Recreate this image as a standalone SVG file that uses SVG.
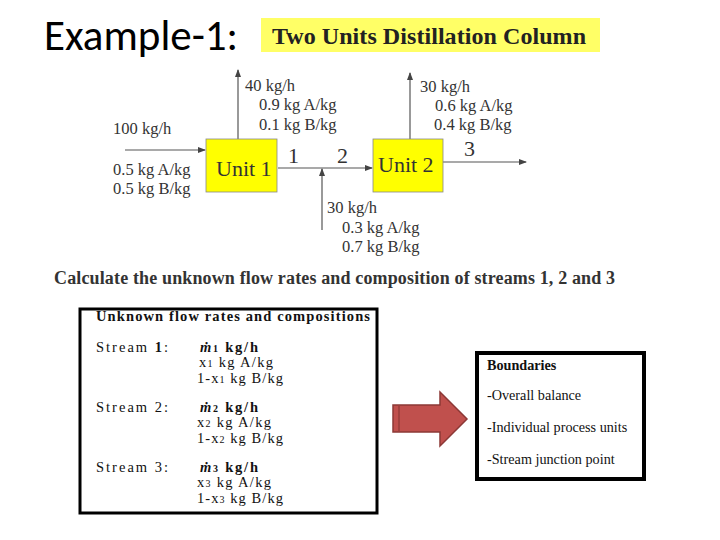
<svg xmlns="http://www.w3.org/2000/svg" width="720" height="540" viewBox="0 0 720 540">
<defs>
<marker id="ah" markerWidth="8" markerHeight="6" refX="7" refY="3" orient="auto" markerUnits="userSpaceOnUse"><path d="M0,0 L8,3 L0,6 Z" fill="#444"/></marker>
<style>
.t{font-family:"Liberation Serif",serif;fill:#333;font-size:16.5px}
.u{font-family:"Liberation Serif",serif;fill:#333;font-size:22px}
.n{font-family:"Liberation Serif",serif;fill:#333;font-size:22px}
.b{font-family:"Liberation Serif",serif;fill:#111;font-size:14.5px}
.d{font-family:"Liberation Serif",serif;fill:#111;font-size:14.2px}
.c{stroke:#555;stroke-width:1.2;fill:none}
.box{fill:#ffff00;stroke:#888;stroke-width:0.8}
</style>
</defs>
<rect width="720" height="540" fill="#fff"/>
<text x="44" y="50" font-family="Carlito,'Liberation Sans',sans-serif" font-size="43" fill="#000">Example-1:</text>
<g id="title"><rect x="261" y="18" width="339" height="34" fill="#ffff66"/>
<text x="272" y="44" font-family="Liberation Serif,serif" font-weight="bold" font-size="24" fill="#222" textLength="314">Two Units Distillation Column</text></g>
<g id="connectors">
<line class="c" x1="125" y1="150" x2="205" y2="150" marker-end="url(#ah)"/>
<line class="c" x1="238" y1="139" x2="238" y2="70" marker-end="url(#ah)"/>
<line class="c" x1="278" y1="168" x2="372" y2="168" marker-end="url(#ah)"/>
<line class="c" x1="322" y1="230" x2="322" y2="169" marker-end="url(#ah)"/>
<line class="c" x1="410" y1="139" x2="410" y2="73" marker-end="url(#ah)"/>
<line class="c" x1="443" y1="162" x2="526" y2="162" marker-end="url(#ah)"/>
</g>
<g id="unit1"><rect class="box" x="206" y="139" width="71" height="53"/><text class="u" x="216" y="176">Unit 1</text></g>
<g id="unit2"><rect class="box" x="373" y="139" width="70" height="53"/><text class="u" x="378" y="172">Unit 2</text></g>
<g id="labels">
<text class="t" x="113" y="134">100 kg/h</text>
<text class="t" x="113" y="175">0.5 kg A/kg</text>
<text class="t" x="113" y="194">0.5 kg B/kg</text>
<text class="t" x="245" y="91">40 kg/h</text>
<text class="t" x="259" y="110">0.9 kg A/kg</text>
<text class="t" x="259" y="130">0.1 kg B/kg</text>
<text class="t" x="420" y="92">30 kg/h</text>
<text class="t" x="435" y="111">0.6 kg A/kg</text>
<text class="t" x="434" y="130">0.4 kg B/kg</text>
<text class="t" x="327" y="213">30 kg/h</text>
<text class="t" x="342" y="233">0.3 kg A/kg</text>
<text class="t" x="342" y="252">0.7 kg B/kg</text>
<text class="n" x="288" y="163">1</text>
<text class="n" x="337" y="163">2</text>
<text class="n" x="464" y="156">3</text>
</g>
<text x="54" y="284" font-family="Liberation Serif,serif" font-weight="bold" font-size="18" fill="#333" textLength="561">Calculate the unknown flow rates and composition of streams 1, 2 and 3</text>
<g id="unknowns">
<rect x="80" y="309" width="297" height="204" fill="#fff" stroke="#000" stroke-width="3"/>
<text class="b" x="96" y="321" font-weight="bold" font-size="14" textLength="274">Unknown flow rates and compositions</text>
<text class="b" x="96" y="352" textLength="72">Stream <tspan font-weight="bold">1</tspan>:</text>
<text class="b" x="200" y="352" font-weight="bold" textLength="58"><tspan font-style="italic">ṁ</tspan><tspan font-size="10">1</tspan> kg/h</text>
<text class="b" x="199" y="367" textLength="74">x<tspan font-size="10">1</tspan> kg A/kg</text>
<text class="b" x="197" y="383" textLength="86">1-x<tspan font-size="10">1</tspan> kg B/kg</text>
<text class="b" x="96" y="412" textLength="72">Stream 2:</text>
<text class="b" x="200" y="412" font-weight="bold" textLength="58"><tspan font-style="italic">ṁ</tspan><tspan font-size="10">2</tspan> kg/h</text>
<text class="b" x="197" y="427" textLength="74">x<tspan font-size="10">2</tspan> kg A/kg</text>
<text class="b" x="197" y="443" textLength="86">1-x<tspan font-size="10">2</tspan> kg B/kg</text>
<text class="b" x="96" y="472" textLength="72">Stream 3:</text>
<text class="b" x="200" y="472" font-weight="bold" textLength="58"><tspan font-style="italic">ṁ</tspan><tspan font-size="10">3</tspan> kg/h</text>
<text class="b" x="197" y="487" textLength="74">x<tspan font-size="10">3</tspan> kg A/kg</text>
<text class="b" x="197" y="503" textLength="86">1-x<tspan font-size="10">3</tspan> kg B/kg</text>
</g>
<g id="arrow"><path d="M393,405 H440 V392 L467,419 L440,446 V432 H393 Z" fill="#c0504d" stroke="#8c3836" stroke-width="1.5"/><line x1="399" y1="406" x2="399" y2="431" stroke="#8c3836" stroke-width="1.2"/></g>
<g id="boundaries">
<rect x="477" y="353" width="167" height="126" fill="#fff" stroke="#000" stroke-width="4"/>
<text class="d" x="487" y="370" font-weight="bold">Boundaries</text>
<text class="d" x="487" y="400">-Overall balance</text>
<text class="d" x="487" y="432">-Individual process units</text>
<text class="d" x="487" y="464">-Stream junction point</text>
</g>
</svg>
